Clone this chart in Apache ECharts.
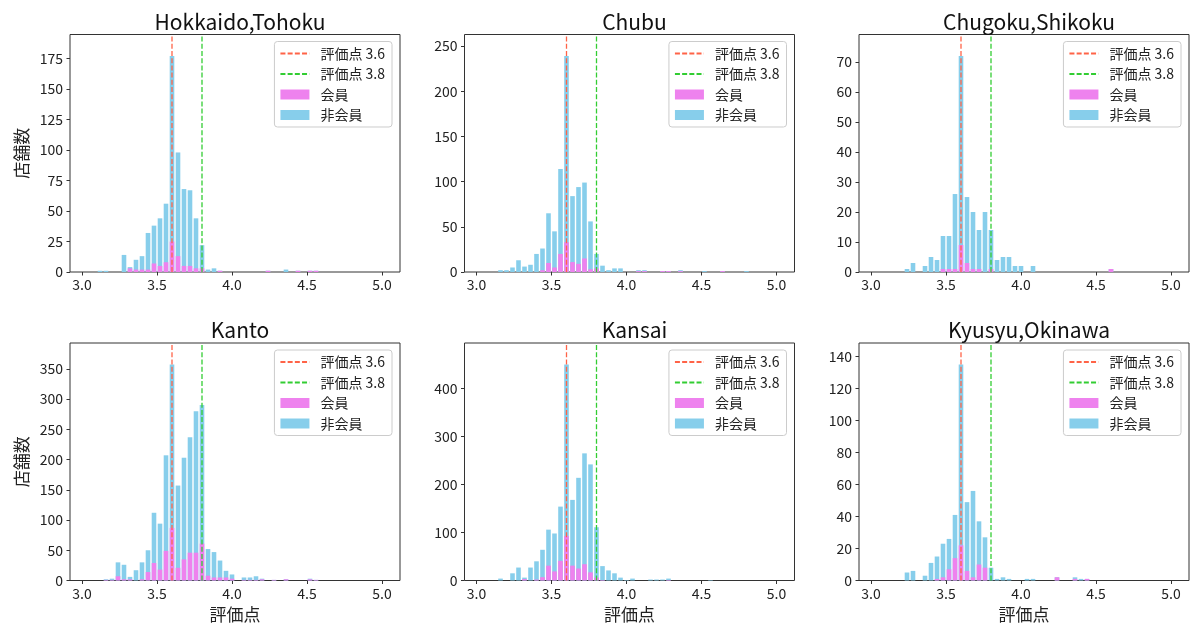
<!DOCTYPE html>
<html>
<head>
<meta charset="utf-8">
<script src="https://cdn.jsdelivr.net/npm/echarts@6/dist/echarts.min.js"></script>
<style>
  html, body { margin: 0; padding: 0; background: #fff; }
  #chart { width: 1200px; height: 637px; }
</style>
</head>
<body>
<div id="chart"></div>
<script>
// 評価点のビン中心 (幅0.04)
const binCenters = [
  3.12, 3.16, 3.20, 3.24, 3.28, 3.32, 3.36, 3.40, 3.44, 3.48,
  3.52, 3.56, 3.60, 3.64, 3.68, 3.72, 3.76, 3.80, 3.84, 3.88,
  3.92, 3.96, 4.00, 4.04, 4.08, 4.12, 4.16, 4.20, 4.24, 4.28,
  4.32, 4.36, 4.40, 4.44, 4.48, 4.52, 4.56, 4.60, 4.64, 4.68,
  4.72, 4.76, 4.80
];

const regions = ['Hokkaido,Tohoku', 'Chubu', 'Chugoku,Shikoku', 'Kanto', 'Kansai', 'Kyusyu,Okinawa'];

// 会員 / 非会員 の店舗数
const memberHokkaido = [
  0, 0, 0, 0, 0, 3, 2, 2, 2, 7,
  5, 8, 25, 13, 5, 5, 3, 3, 0, 0,
  1, 0, 0, 0, 0, 0, 0, 0, 1, 0,
  0, 0, 0, 1, 0, 1, 1, 0, 0, 0,
  0, 0, 0
];
const nonMemberHokkaido = [
  1, 1, 0, 0, 14, 1, 8, 11, 30, 31,
  39, 48, 152, 85, 63, 62, 41, 19, 2, 3,
  0, 0, 0, 0, 0, 0, 0, 0, 0, 0,
  0, 2, 0, 0, 0, 0, 0, 0, 0, 0,
  0, 0, 0
];
const memberChubu = [
  0, 0, 0, 0, 0, 0, 0, 0, 2, 10,
  5, 20, 33, 11, 9, 15, 3, 4, 0, 0,
  0, 0, 0, 0, 1, 1, 0, 0, 1, 1,
  0, 1, 0, 0, 0, 0, 0, 0, 1, 0,
  0, 0, 0
];
const nonMemberChubu = [
  0, 2, 2, 5, 13, 6, 8, 20, 24, 55,
  40, 94, 206, 73, 85, 84, 53, 16, 7, 2,
  4, 4, 0, 0, 1, 1, 0, 0, 0, 0,
  0, 1, 0, 0, 0, 1, 0, 0, 0, 0,
  0, 0, 1
];
const memberChugoku = [
  0, 0, 0, 0, 0, 0, 0, 0, 0, 1,
  1, 1, 9, 3, 1, 1, 0, 1, 0, 0,
  0, 0, 0, 0, 0, 0, 0, 0, 0, 0,
  0, 0, 0, 0, 0, 0, 0, 1, 0, 0,
  0, 0, 0
];
const nonMemberChugoku = [
  0, 0, 0, 1, 3, 0, 2, 5, 4, 11,
  11, 25, 63, 22, 19, 13, 20, 13, 4, 5,
  5, 2, 2, 0, 2, 0, 0, 0, 0, 0,
  0, 0, 0, 0, 0, 0, 0, 0, 0, 0,
  0, 0, 0
];
const memberKanto = [
  0, 1, 1, 7, 2, 2, 0, 2, 14, 29,
  18, 49, 87, 21, 35, 46, 46, 61, 8, 5,
  5, 5, 3, 0, 1, 1, 1, 2, 0, 1,
  0, 2, 0, 0, 0, 2, 1, 0, 0, 0,
  0, 0, 0
];
const nonMemberKanto = [
  0, 1, 2, 23, 24, 4, 17, 28, 36, 83,
  76, 158, 270, 136, 168, 191, 234, 229, 44, 42,
  28, 11, 7, 0, 4, 4, 6, 1, 0, 0,
  0, 0, 0, 0, 0, 1, 0, 0, 0, 0,
  0, 0, 0
];
const memberKansai = [
  0, 0, 0, 0, 0, 3, 0, 2, 7, 31,
  19, 41, 93, 31, 25, 34, 17, 6, 1, 0,
  0, 0, 0, 0, 0, 0, 0, 0, 0, 1,
  0, 0, 0, 0, 0, 0, 0, 0, 0, 0,
  0, 0, 0
];
const nonMemberKansai = [
  0, 4, 0, 15, 27, 3, 27, 38, 57, 75,
  79, 113, 357, 137, 189, 231, 225, 105, 29, 21,
  15, 6, 1, 4, 0, 0, 2, 2, 2, 3,
  0, 0, 0, 0, 0, 0, 1, 0, 0, 0,
  0, 0, 0
];
const memberKyusyu = [
  0, 0, 0, 0, 0, 0, 0, 0, 1, 2,
  7, 14, 22, 6, 2, 10, 8, 0, 0, 0,
  0, 0, 0, 0, 0, 0, 0, 0, 2, 0,
  0, 1, 0, 1, 0, 0, 0, 0, 0, 0,
  0, 0, 0
];
const nonMemberKyusyu = [
  0, 0, 0, 5, 6, 0, 3, 11, 14, 21,
  19, 27, 113, 43, 54, 27, 19, 8, 1, 2,
  1, 0, 0, 1, 1, 0, 0, 0, 0, 0,
  0, 1, 1, 0, 0, 0, 0, 0, 0, 0,
  0, 0, 0
];

// 目盛り
const xTicks = [3.0, 3.5, 4.0, 4.5, 5.0];
const yTicksHokkaido = [0, 25, 50, 75, 100, 125, 150, 175];
const yTicksChubu = [0, 50, 100, 150, 200, 250];
const yTicksChugoku = [0, 10, 20, 30, 40, 50, 60, 70];
const yTicksKanto = [0, 50, 100, 150, 200, 250, 300, 350];
const yTicksKansai = [0, 100, 200, 300, 400];
const yTicksKyusyu = [0, 20, 40, 60, 80, 100, 120, 140];

// 基準線
const thresholds = [3.6, 3.8];

const panels = [
  { member: memberHokkaido, nonMember: nonMemberHokkaido, yTicks: yTicksHokkaido },
  { member: memberChubu, nonMember: nonMemberChubu, yTicks: yTicksChubu },
  { member: memberChugoku, nonMember: nonMemberChugoku, yTicks: yTicksChugoku },
  { member: memberKanto, nonMember: nonMemberKanto, yTicks: yTicksKanto },
  { member: memberKansai, nonMember: nonMemberKansai, yTicks: yTicksKansai },
  { member: memberKyusyu, nonMember: nonMemberKyusyu, yTicks: yTicksKyusyu }
];

const FONT = '"Noto Sans CJK JP", "Noto Sans", sans-serif';
const AXIS_COLOR = '#333';
const TEXT_COLOR = '#222';
const LINE_COLORS = ['#FF6347', '#32CD32'];
const GRID_LEFTS = [70, 464.5, 859];
const GRID_TOPS = [34.5, 343];
const GRID_W = 330;
const GRID_H = 237.5;

const chart = echarts.init(document.getElementById('chart'));

const grids = [], xAxes = [], yAxes = [], titles = [], legends = [], series = [];

panels.forEach((p, i) => {
  const col = i % 3;
  const row = Math.floor(i / 3);
  const left = GRID_LEFTS[col];
  const top = GRID_TOPS[row];

  // 積み上げ: 非会員は会員の上に載せる
  const totals = p.member.map((m, j) => m + p.nonMember[j]);
  // 縦軸の上限 = 最大店舗数 × 1.1
  const yMax = Math.max(...totals) * 1.1;

  grids.push({
    left: left, top: top, width: GRID_W, height: GRID_H,
    show: true, borderColor: AXIS_COLOR, borderWidth: 1
  });

  xAxes.push({
    type: 'value', gridIndex: i, min: 2.92, max: 5.12,
    axisLine: { show: false },
    splitLine: { show: false },
    axisTick: { show: true, customValues: xTicks, length: 3.5, lineStyle: { color: AXIS_COLOR } },
    axisLabel: {
      customValues: xTicks, fontSize: 14, color: TEXT_COLOR, fontFamily: FONT, margin: 6,
      formatter: v => v.toFixed(1)
    },
    name: row === 1 ? '評価点' : '',
    nameLocation: 'middle', nameGap: 26,
    nameTextStyle: { fontSize: 17, color: TEXT_COLOR, fontFamily: FONT }
  });

  yAxes.push({
    type: 'value', gridIndex: i, min: 0, max: yMax,
    axisLine: { show: false },
    splitLine: { show: false },
    axisTick: { show: true, customValues: p.yTicks, length: 3.5, lineStyle: { color: AXIS_COLOR } },
    axisLabel: { customValues: p.yTicks, fontSize: 14, color: TEXT_COLOR, fontFamily: FONT, margin: 7 },
    name: col === 0 ? '店舗数' : '',
    nameLocation: 'middle', nameGap: 40,
    nameTextStyle: { fontSize: 17, color: TEXT_COLOR, fontFamily: FONT }
  });

  titles.push({
    text: regions[i],
    left: left + GRID_W / 2, top: top - 28, textAlign: 'center',
    textStyle: { fontSize: 21, fontWeight: 'normal', color: '#111', fontFamily: FONT }
  });

  legends.push({
    orient: 'vertical',
    right: 1200 - (left + GRID_W) + 8, top: top + 7,
    itemWidth: 29, itemHeight: 10, itemGap: 6.5,
    padding: [5, 7, 5, 5],
    borderColor: '#ccc', borderWidth: 1, borderRadius: 3,
    backgroundColor: 'rgba(255,255,255,0.8)',
    textStyle: { fontSize: 14, color: TEXT_COLOR, fontFamily: FONT, padding: [0, 0, 0, 6] },
    data: [
      { name: '評価点 3.6', itemStyle: { opacity: 0 } },
      { name: '評価点 3.8', itemStyle: { opacity: 0 } },
      { name: '会員', icon: 'rect' },
      { name: '非会員', icon: 'rect' }
    ]
  });

  series.push({
    name: '非会員', type: 'bar', xAxisIndex: i, yAxisIndex: i,
    barWidth: 4.6, barGap: '-100%', itemStyle: { color: '#87CEEB' },
    data: binCenters.map((x, j) => [x, totals[j]])
  });
  series.push({
    name: '会員', type: 'bar', xAxisIndex: i, yAxisIndex: i,
    barWidth: 4.6, barGap: '-100%', itemStyle: { color: '#EE82EE' },
    data: binCenters.map((x, j) => [x, p.member[j]])
  });

  thresholds.forEach((t, k) => {
    series.push({
      name: '評価点 ' + t.toFixed(1), type: 'line', xAxisIndex: i, yAxisIndex: i,
      symbol: 'none', z: 5, silent: true,
      itemStyle: { color: LINE_COLORS[k] },
      lineStyle: { color: LINE_COLORS[k], type: [5, 2.2], width: 1.3 },
      data: [[t, 0], [t, yMax]]
    });
  });
});

chart.setOption({
  animation: false,
  textStyle: { fontFamily: FONT },
  title: titles,
  legend: legends,
  grid: grids,
  xAxis: xAxes,
  yAxis: yAxes,
  series: series
});
</script>
</body>
</html>
